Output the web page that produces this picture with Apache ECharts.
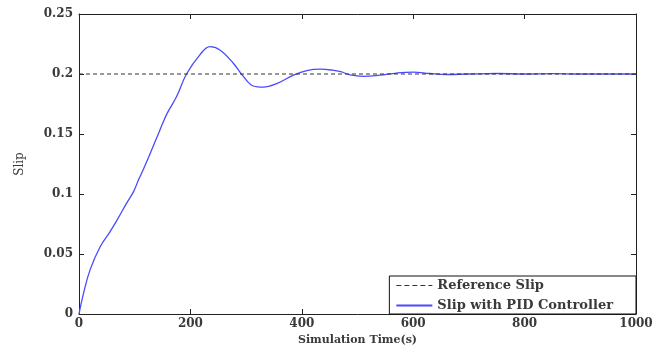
<!DOCTYPE html>
<html>
<head>
<meta charset="utf-8">
<script src="https://cdn.jsdelivr.net/npm/echarts@6/dist/echarts.min.js"></script>
<style>html,body{margin:0;padding:0;background:#fff;}#c{width:670px;height:345px;}</style>
</head>
<body>
<div id="c"></div>
<script>
const xTicks = [0, 200, 400, 600, 800, 1000];
const yTicks = [0, 0.05, 0.1, 0.15, 0.2, 0.25];
const refTime = [0, 1000];
const refSlip = [0.2, 0.2];
const pidTime = [0,8,20,38,55,68,85,98,107,115,128,145,158,175,193,217,235,253,277,295,313,331,355,385,409,433,455,470,487,510,540,570,600,630,660,700,750,800,850,900,1000];
const pidSlip = [0,0.017,0.037,0.056,0.068,0.078,0.092,0.102,0.112,0.12,0.134,0.153,0.167,0.181,0.2,0.216,0.2228,0.22,0.209,0.198,0.190,0.189,0.192,0.199,0.2028,0.204,0.2032,0.2019,0.1992,0.198,0.199,0.2008,0.2016,0.2004,0.1996,0.2,0.2004,0.2,0.2003,0.2,0.2];

const font = 'DejaVu Serif';
const txt = '#3a3a3a';
const blue = '#4a4aff';
const chart = echarts.init(document.getElementById('c'), null, {renderer: 'canvas'});
const axisCommon = {
  axisLine: {show: true, onZero: false, lineStyle: {color: '#222', width: 1}},
  axisTick: {show: true, inside: true, length: 5, lineStyle: {color: '#222'}},
  splitLine: {show: false}
};
const dashIcon = 'path://M0,0H5V1H0Z M8,0H13V1H8Z M16,0H21V1H16Z M24,0H29V1H24Z M32,0H36V1H32Z';
chart.setOption({
  animation: false,
  backgroundColor: '#fff',
  grid: {left: 79, right: 34, top: 14, bottom: 31, containLabel: false, outerBoundsMode: 'none'},
  xAxis: [
    Object.assign({type: 'value', position: 'bottom', min: xTicks[0], max: xTicks[xTicks.length-1], interval: 200,
      name: 'Simulation Time(s)', nameLocation: 'middle', nameGap: 16,
      nameTextStyle: {fontFamily: font, fontSize: 11, fontWeight: 'bold', color: txt},
      axisLabel: {fontFamily: font, fontSize: 12, fontWeight: 'bold', color: txt, margin: 4, formatter: v => String(v)}}, axisCommon),
    Object.assign({type: 'value', position: 'top', min: xTicks[0], max: xTicks[xTicks.length-1], interval: 200,
      axisLabel: {show: false}}, axisCommon)
  ],
  yAxis: [
    Object.assign({type: 'value', position: 'left', min: yTicks[0], max: yTicks[yTicks.length-1], interval: 0.05,
      name: 'Slip', nameLocation: 'middle', nameGap: 53, nameRotate: 90,
      nameTextStyle: {fontFamily: font, fontSize: 12, color: txt},
      axisLabel: {fontFamily: font, fontSize: 12, fontWeight: 'bold', color: txt, margin: 6, formatter: v => String(+v.toFixed(2))}}, axisCommon),
    Object.assign({type: 'value', position: 'right', min: yTicks[0], max: yTicks[yTicks.length-1], interval: 0.05,
      axisLabel: {show: false}}, axisCommon)
  ],
  legend: {
    orient: 'vertical', right: 34, bottom: 31,
    padding: [3, 23, 2, 7], itemGap: 7, itemWidth: 36, itemHeight: 2,
    backgroundColor: '#fff', borderColor: '#111', borderWidth: 1, borderRadius: 0,
    textStyle: {fontFamily: font, fontSize: 13, fontWeight: 'bold', color: txt},
    data: [
      {name: 'Reference Slip', icon: dashIcon, itemStyle: {color: '#333', borderWidth: 0}},
      {name: 'Slip with PID Controller', icon: 'rect', itemStyle: {color: blue, borderColor: blue, borderWidth: 0}}
    ]
  },
  series: [
    {name: 'Reference Slip', type: 'line', symbol: 'none', data: refTime.map((t, i) => [t, refSlip[i]]),
      lineStyle: {color: '#333', width: 1, type: [4, 3]}, itemStyle: {color: '#333'}, z: 3},
    {name: 'Slip with PID Controller', type: 'line', symbol: 'none', smooth: 0.4,
      data: pidTime.map((t, i) => [t, pidSlip[i]]),
      lineStyle: {color: blue, width: 1.3}, itemStyle: {color: blue}, z: 2}
  ]
});
</script>
</body>
</html>
